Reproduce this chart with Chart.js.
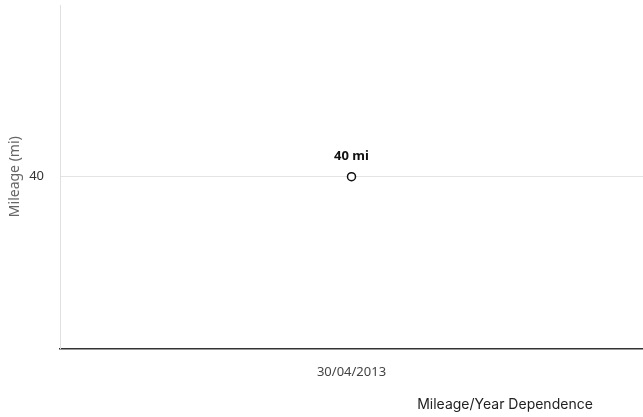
<!DOCTYPE html>
<html lang="en">
<head>
  <meta charset="UTF-8" />
  <title>Mileage/Year Dependence</title>
  <script src="https://cdn.jsdelivr.net/npm/chart.js"></script>
  <style>
    html, body { margin: 0; padding: 0; background: #fff; }
    #wrap { width: 643px; height: 417px; }
  </style>
</head>
<body>
  <div id="wrap"><canvas id="mileageChart"></canvas></div>

  <script>
    const dates = ["30/04/2013"];
    const mileage = [40];
    const yTicks = [40];

    // draws "40 mi" above each point
    const pointLabels = {
      id: "pointLabels",
      afterDatasetsDraw(chart) {
        const ctx = chart.ctx;
        const meta = chart.getDatasetMeta(0);
        ctx.save();
        ctx.font = "bold 13px 'Noto Sans', sans-serif";
        ctx.fillStyle = "#111";
        ctx.textAlign = "center";
        ctx.textBaseline = "middle";
        meta.data.forEach((pt, i) => {
          ctx.fillText(mileage[i] + " mi", pt.x, pt.y - 20);
        });
        ctx.restore();
      }
    };

    // title at the bottom, right of centre
    const bottomTitle = {
      id: "bottomTitle",
      afterDraw(chart) {
        const ctx = chart.ctx;
        ctx.save();
        ctx.font = "14px Inter, sans-serif";
        ctx.fillStyle = "#222";
        ctx.textAlign = "center";
        ctx.textBaseline = "middle";
        ctx.fillText("Mileage/Year Dependence", chart.width - 138, chart.height - 12);
        ctx.restore();
      }
    };

    const chartCtx = document.getElementById("mileageChart").getContext("2d");
    const chart = new Chart(chartCtx, {
      type: "line",
      data: {
        labels: dates,
        datasets: [{
          label: "Mileage",
          data: mileage,
          borderColor: "#111",
          backgroundColor: "#fff",
          pointRadius: 4,
          pointBorderWidth: 1.5,
          pointBackgroundColor: "#fff",
          pointBorderColor: "#111",
          showLine: false
        }]
      },
      options: {
        responsive: true,
        maintainAspectRatio: false,
        animation: false,
        layout: { autoPadding: false, padding: { top: 5, right: 0, bottom: 29, left: 7 } },
        plugins: {
          legend: { display: false },
          title: { display: false },
          tooltip: { enabled: false }
        },
        scales: {
          x: {
            offset: true,
            grid: { display: false },
            border: { color: "#333", width: 1.5 },
            ticks: {
              color: "#444",
              padding: 8,
              font: { family: "'Noto Sans', sans-serif", size: 13 }
            },
            afterFit(scale) {
              scale.paddingLeft = 0;
              scale.paddingRight = 0;
            }
          },
          y: {
            min: 20,
            max: 60,
            afterBuildTicks(scale) {
              scale.ticks = yTicks.map(v => ({ value: v }));
            },
            afterFit(scale) {
              scale.width = 53;
              scale.paddingTop = 0;
              scale.paddingBottom = 0;
            },
            grid: { color: "#e4e4e4", drawTicks: false },
            border: { color: "#e0e0e0" },
            ticks: {
              color: "#333",
              padding: 16,
              font: { family: "'Noto Sans', sans-serif", size: 13 }
            },
            title: {
              display: true,
              text: "Mileage (mi)",
              color: "#666",
              padding: { top: 0, bottom: 4 },
              font: { family: "'Noto Sans', sans-serif", size: 14 }
            }
          }
        }
      },
      plugins: [pointLabels, bottomTitle]
    });
  </script>
</body>
</html>
